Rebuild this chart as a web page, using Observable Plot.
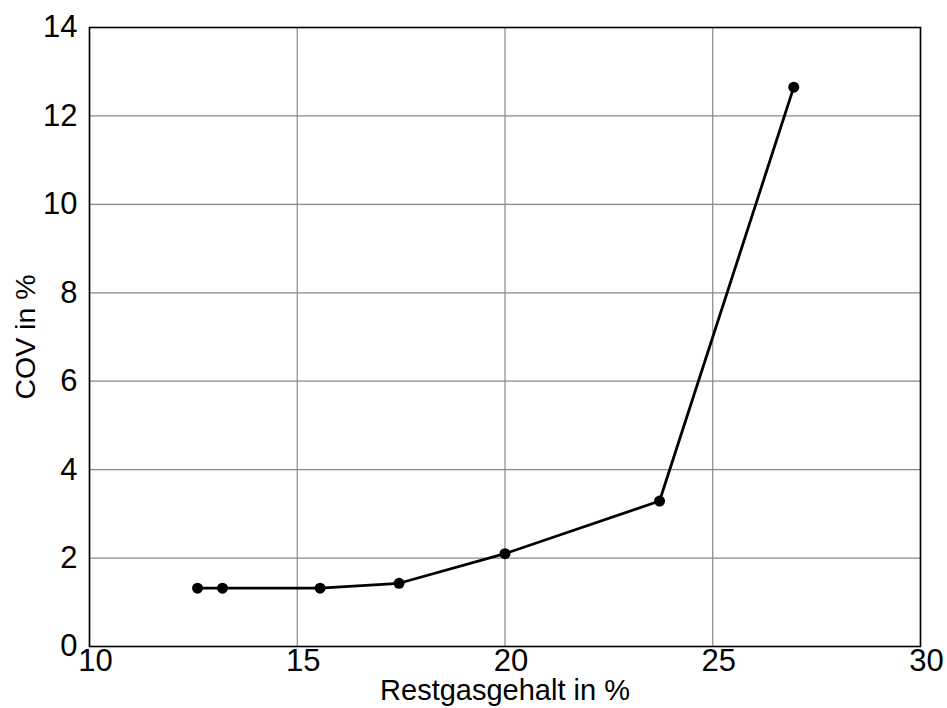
<!DOCTYPE html>
<html>
<head>
<meta charset="utf-8">
<script src="https://cdn.jsdelivr.net/npm/d3@7"></script>
<script src="https://cdn.jsdelivr.net/npm/@observablehq/plot@0.6"></script>
<style>
  html, body { margin: 0; padding: 0; background: #fff; }
</style>
</head>
<body>
<div id="chart"></div>
<script>
const restgas = [12.6, 13.2, 15.55, 17.45, 20.0, 23.72, 26.95];
const cov = [1.32, 1.32, 1.32, 1.43, 2.1, 3.29, 12.65];
const xTicks = [10, 15, 20, 25, 30];
const yTicks = [0, 2, 4, 6, 8, 10, 12, 14];
const xTitle = "Restgasgehalt in %";
const yTitle = "COV in %";

const data = restgas.map((x, i) => ({x, y: cov[i]}));

const chart = Plot.plot({
  width: 947,
  height: 708,
  marginLeft: 89,
  marginRight: 27,
  marginTop: 27,
  marginBottom: 62,
  style: {fontFamily: "'Liberation Sans', Arial, sans-serif", background: "#fff", color: "#000"},
  x: {domain: [10, 30]},
  y: {domain: [0, 14]},
  marks: [
    Plot.gridX(xTicks, {stroke: "#888", strokeOpacity: 1, strokeWidth: 1.2}),
    Plot.gridY(yTicks, {stroke: "#888", strokeOpacity: 1, strokeWidth: 1.2}),
    Plot.frame({stroke: "#000", strokeWidth: 1.6}),
    Plot.axisX(xTicks, {tickSize: 0, tickPadding: 2, fontSize: 31, dx: 6, label: null}),
    Plot.axisY(yTicks, {tickSize: 0, tickPadding: 12, fontSize: 31, label: null}),
    Plot.line(data, {x: "x", y: "y", stroke: "#000", strokeWidth: 2.8}),
    Plot.dot(data, {x: "x", y: "y", r: 5.5, fill: "#000"}),
    Plot.text([xTitle], {frameAnchor: "bottom", lineAnchor: "middle", textAnchor: "middle", dy: 44, fontSize: 29, fill: "#000"}),
    Plot.text([yTitle], {frameAnchor: "left", lineAnchor: "middle", textAnchor: "middle", dx: -64, rotate: -90, fontSize: 28.5, fill: "#000"})
  ]
});
document.getElementById("chart").appendChild(chart);
</script>
</body>
</html>
